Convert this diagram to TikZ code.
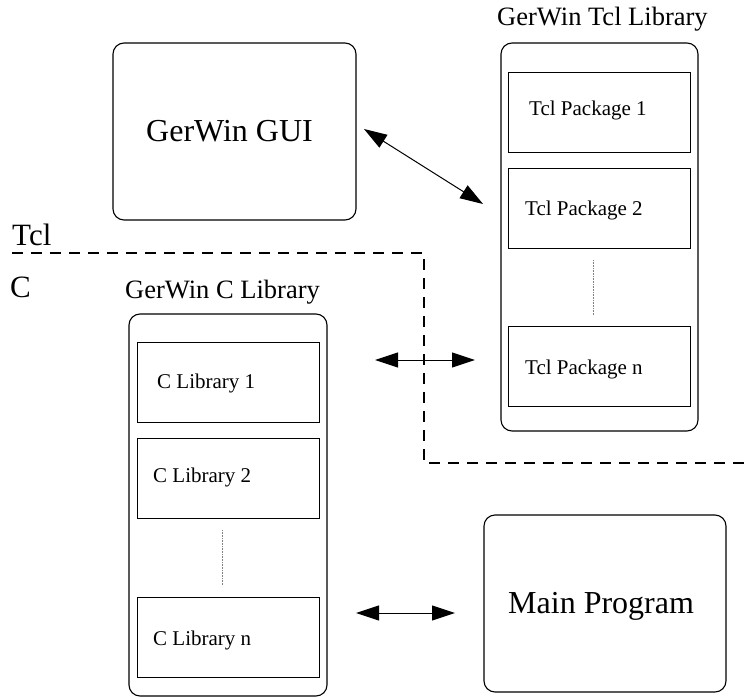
\documentclass[tikz,border=0pt]{standalone}
\usepackage{fontspec}
\setmainfont{Liberation Serif}
\usetikzlibrary{arrows.meta}
\begin{document}
\begin{tikzpicture}[x=1pt,y=-1pt,
  roundbox/.style={draw,line width=1.1pt,rounded corners=11pt,inner sep=0pt},
  libbox/.style={draw,line width=0.9pt,inner sep=0pt,minimum width=182pt,minimum height=80pt},
  lbl/.style={anchor=base west,inner sep=0pt},
  link/.style={line width=1pt,{Triangle[length=23pt,width=15pt]}-{Triangle[length=23pt,width=15pt]}},
  boundary/.style={line width=2.8pt,dash pattern=on 11pt off 8pt},
  gap/.style={densely dotted,line width=0.6pt,gray}]
\useasboundingbox (0,0) rectangle (749,698);

% GUI and main program
\node[roundbox,minimum width=243pt,minimum height=177pt] (gui) at (234.5,131.5) {};
\node[lbl,font=\fontsize{32}{36}\selectfont] (guitext) at (146,142) {GerWin GUI};
\node[roundbox,minimum width=242pt,minimum height=177pt] (main) at (605,603.5) {};
\node[lbl,font=\fontsize{32}{36}\selectfont] (maintext) at (508,613) {Main Program};

% Tcl library
\node[roundbox,minimum width=197pt,minimum height=388pt] (tcllib) at (599.5,237) {};
\node[lbl,font=\fontsize{26.5}{30}\selectfont] (tcltitle) at (497,26) {GerWin Tcl Library};
\node[libbox] (tcl1) at (599.5,112) {};
\node[libbox] (tcl2) at (599.5,208) {};
\node[libbox] (tcln) at (599.5,366) {};
\node[lbl,font=\fontsize{21}{24}\selectfont] (tcl1t) at (529,116) {Tcl Package 1};
\node[lbl,font=\fontsize{21}{24}\selectfont] (tcl2t) at (525,215) {Tcl Package 2};
\node[lbl,font=\fontsize{21}{24}\selectfont] (tclnt) at (525,374) {Tcl Package n};
\coordinate (tdA) at (593,260);
\coordinate (tdB) at (593,315);
\draw[gap] (tdA) -- (tdB);

% C library
\node[roundbox,minimum width=198pt,minimum height=382pt] (clib) at (228,505) {};
\node[lbl,font=\fontsize{26.5}{30}\selectfont] (ctitle) at (125,298) {GerWin C Library};
\node[libbox] (c1) at (228,382) {};
\node[libbox] (c2) at (228,478) {};
\node[libbox] (cn) at (228,637) {};
\node[lbl,font=\fontsize{21}{24}\selectfont] (c1t) at (157,388) {C Library 1};
\node[lbl,font=\fontsize{21}{24}\selectfont] (c2t) at (153,482) {C Library 2};
\node[lbl,font=\fontsize{21}{24}\selectfont] (cnt) at (153,645) {C Library n};
\coordinate (cdA) at (222,530);
\coordinate (cdB) at (222,585);
\draw[gap] (cdA) -- (cdB);

% Tcl / C boundary
\node[lbl,font=\fontsize{31}{34}\selectfont] (tcllabel) at (12,245) {Tcl};
\node[lbl,font=\fontsize{31}{34}\selectfont] (clabel) at (10,297) {C};
\coordinate (bA) at (12,253);
\coordinate (bB) at (424,253);
\coordinate (bC) at (424,463);
\coordinate (bD) at (749,463);
\draw[boundary] (bA) -- (bB) -- (bC) -- (bD);

% connectors
\coordinate (a1) at (364,129);
\coordinate (a2) at (483,204);
\coordinate (m1) at (375,360);
\coordinate (m2) at (475,360);
\coordinate (b1) at (356,613);
\coordinate (b2) at (455,613);
\draw[link] (a1) -- (a2);
\draw[link] (m1) -- (m2);
\draw[link] (b1) -- (b2);
\end{tikzpicture}
\end{document}
